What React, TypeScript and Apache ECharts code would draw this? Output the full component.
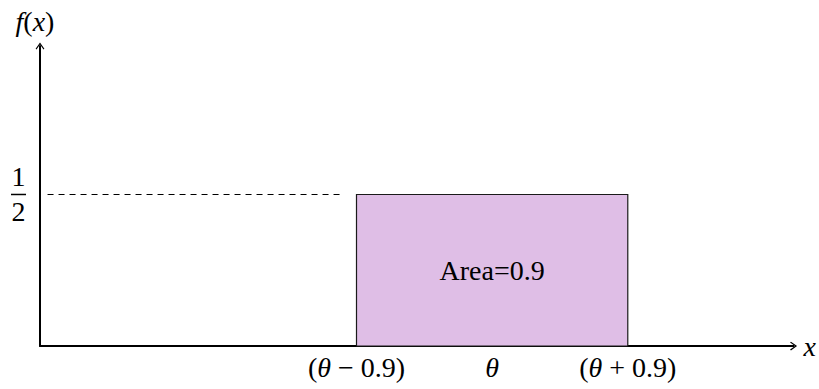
import React, { useEffect, useRef } from "react";
import * as echarts from "echarts";

// ---- data ----
const theta = 3;
const halfWidth = 0.9;
const rectX = [theta - halfWidth, theta + halfWidth];
const rectHeight = 0.5;
const dashX = [0.05, 2.0];
const xTickValues = [theta - halfWidth, theta, theta + halfWidth];
const xTickLabels = ["({it|θ} − 0.9)", "{it|θ}", "({it|θ} + 0.9)"];
const yTickValues = [0.5];
const yTickNum = ["1"];
const yTickDen = ["2"];
const areaLabel = "Area=0.9";
const xName = "x";
const yName = "{it|f}({it|x})";
const xMax = 5.0;
const yMax = 0.99;

const FONT = "'Liberation Serif', 'DejaVu Serif', serif";
const FS = 28;
const arrow = "path://M5 0 L10 7 L9 8 L5 2.4 L1 8 L0 7 Z";

export default function App() {
  const ref = useRef<HTMLDivElement>(null);
  useEffect(() => {
    if (!ref.current) return;
    const chart = echarts.init(ref.current, null, { renderer: "svg" });
    const it = { fontStyle: "italic" as const, fontFamily: FONT, fontSize: FS, color: "#000" };
    chart.setOption({
      animation: false,
      backgroundColor: "#fff",
      grid: { left: 40, right: 22, top: 46, bottom: 43 },
      xAxis: {
        type: "value",
        min: 0,
        max: xMax,
        name: xName,
        nameLocation: "end",
        nameGap: 10,
        nameTextStyle: { fontFamily: FONT, fontSize: FS, fontStyle: "italic", color: "#000" },
        splitLine: { show: false },
        axisTick: { show: false },
        axisLine: {
          show: true,
          onZero: false,
          symbol: ["none", arrow],
          symbolSize: [10, 7],
          lineStyle: { color: "#000", width: 2 },
        },
        axisLabel: {
          customValues: xTickValues,
          margin: 7,
          fontFamily: FONT,
          fontSize: FS,
          color: "#000",
          formatter: (v: number) => {
            const i = xTickValues.findIndex((t) => Math.abs(t - v) < 1e-6);
            return i >= 0 ? xTickLabels[i] : "";
          },
          rich: { it },
        },
      },
      yAxis: {
        type: "value",
        min: 0,
        max: yMax,
        name: yName,
        nameLocation: "end",
        nameGap: 11,
        nameTextStyle: {
          fontFamily: FONT,
          fontSize: FS,
          color: "#000",
          padding: [0, 10, 0, 0],
          rich: { it },
        },
        splitLine: { show: false },
        axisTick: { show: false },
        axisLine: {
          show: true,
          onZero: false,
          symbol: ["none", arrow],
          symbolSize: [10, 7],
          lineStyle: { color: "#000", width: 2 },
        },
        axisLabel: {
          customValues: yTickValues,
          margin: 14,
          fontFamily: FONT,
          fontSize: FS,
          color: "#000",
          formatter: (v: number) => {
            const i = yTickValues.findIndex((t) => Math.abs(t - v) < 1e-6);
            return i >= 0 ? `{n|${yTickNum[i]}}\n{b| }\n{n|${yTickDen[i]}}` : "";
          },
          rich: {
            n: { fontFamily: FONT, fontSize: FS, lineHeight: 28, color: "#000", align: "center" },
            b: { width: 15, height: 1.5, lineHeight: 7, backgroundColor: "#000", fontSize: 1, align: "center" },
          },
        },
      },
      series: [
        {
          type: "line",
          data: [],
          silent: true,
          markArea: {
            silent: true,
            itemStyle: { color: "#dfbee6", borderColor: "#1a1a1a", borderWidth: 1.2 },
            label: {
              show: true,
              position: "inside",
              formatter: areaLabel,
              fontFamily: FONT,
              fontSize: FS,
              color: "#000",
            },
            data: [[{ coord: [rectX[0], 0] }, { coord: [rectX[1], rectHeight] }]],
          },
          markLine: {
            silent: true,
            symbol: "none",
            label: { show: false },
            lineStyle: { color: "#000", width: 1, type: [6, 5] },
            data: [[{ coord: [dashX[0], rectHeight] }, { coord: [dashX[1], rectHeight] }]],
          },
        },
      ],
    });
    return () => chart.dispose();
  }, []);
  return <div ref={ref} style={{ width: 819, height: 389, position: "absolute", left: 0, top: 0 }} />;
}
